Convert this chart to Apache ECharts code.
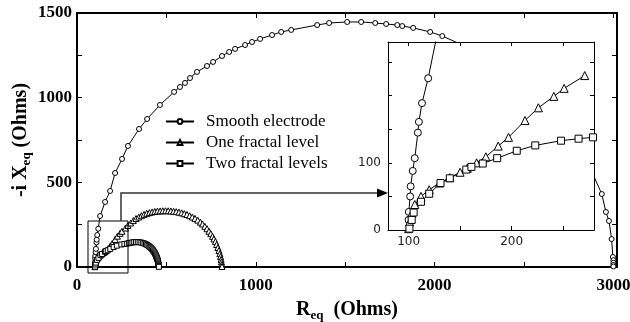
<!DOCTYPE html>
<html>
<head>
<meta charset="utf-8">
<script src="https://cdn.jsdelivr.net/npm/echarts@6/dist/echarts.min.js"></script>
<style>
  html, body { margin: 0; padding: 0; background: #fff; }
  #chart { width: 630px; height: 322px; }
</style>
</head>
<body>
<div id="chart"></div>
<script>
// impedance data (Ohms)
const seriesNames = ['Smooth electrode', 'One fractal level', 'Two fractal levels'];

const smoothRe = [100, 100.2, 101.5, 102, 104, 106, 109, 110, 113, 119, 129, 157, 185, 213, 252, 285, 347, 392, 464,
  543, 576, 604, 632, 671, 727, 761, 811, 851, 884, 940, 979, 1024, 1091, 1142, 1198, 1343, 1410, 1511, 1589,
  1668, 1729, 1791, 1819, 1880, 1975, 2043, 2200, 2400, 2600, 2750, 2880, 2935, 2958, 2975, 2990, 2997, 3000, 3000, 3000, 3000];
const smoothIm = [15, 27, 50, 65, 88, 107, 145, 161, 189, 226, 301, 384, 449, 555, 638, 715, 815, 874, 957,
  1034, 1063, 1087, 1116, 1152, 1187, 1211, 1246, 1270, 1288, 1311, 1329, 1347, 1370, 1388, 1400, 1429, 1441, 1447, 1447,
  1441, 1435, 1429, 1423, 1412, 1388, 1364, 1290, 1170, 990, 780, 560, 431, 325, 272, 165, 59, 40, 25, 12, 3];

const oneRe = [100, 101, 103, 106, 112, 120, 130, 140, 150, 157, 166, 175, 187, 197, 213, 226, 241, 251, 271, 285,
  300, 315, 330, 345, 360, 375, 390, 405, 420, 435, 450, 465, 480, 495, 510, 525, 540, 555, 570, 585,
  600, 615, 630, 645, 660, 675, 690, 702, 715, 727, 738, 748, 758, 766, 774, 781, 788, 794, 799, 803,
  806, 808, 810, 811];
const oneIm = [2, 12, 25, 38, 50, 60, 70, 78, 86, 92, 100, 109, 125, 138, 163, 182, 199, 211, 230, 246,
  260, 274, 286, 295, 303, 311, 317, 321, 325, 328, 330, 331, 332, 332, 332, 331, 329, 327, 324, 320,
  315, 310, 303, 295, 287, 277, 265, 254, 240, 226, 211, 197, 181, 166, 150, 133, 115, 97, 79, 62,
  45, 30, 15, 3];

const twoRe = [100.8, 103, 104.9, 112, 120, 131, 140, 156, 161, 172, 186, 205, 223, 248, 265, 279, 290, 300, 310, 320,
  330, 340, 350, 360, 370, 378, 386, 393, 400, 406, 411, 416, 421, 425, 429, 433, 436, 439, 442, 444,
  446, 448, 450, 452, 453, 454, 455, 456, 457, 458, 458];
const twoIm = [2, 15, 26, 42, 54, 70, 77, 90, 94, 99, 107, 118, 126, 133, 136, 138, 141, 143, 145, 147,
  147, 147, 146, 144, 141, 138, 134, 130, 125, 120, 115, 110, 104, 98, 92, 86, 80, 74, 68, 62,
  56, 50, 44, 38, 32, 26, 20, 15, 10, 5, 1];

// axis ticks / labels
const mainXTicks = [0, 500, 1000, 1500, 2000, 2500, 3000];
const mainXLabels = [0, 1000, 2000, 3000];
const mainYTicks = [0, 250, 500, 750, 1000, 1250, 1500];
const mainYLabels = [0, 500, 1000, 1500];
const insetXTicks = [100, 150, 200, 250];
const insetXLabels = [100, 200];
const insetYTicks = [0, 50, 100, 150, 200, 250];
const insetYLabels = [0, 100];

const zip = (a, b) => a.map((v, i) => [v, b[i]]);
const seriesData = [zip(smoothRe, smoothIm), zip(oneRe, oneIm), zip(twoRe, twoIm)];
const symbols = ['circle', 'triangle', 'rect'];

const serif = 'Liberation Serif';
const chart = echarts.init(document.getElementById('chart'));

function frameAxis(grid, pos, ticks, labels, extra) {
  return Object.assign({
    type: 'value',
    gridIndex: grid,
    position: pos,
    splitLine: { show: false },
    axisLine: { show: true, onZero: false, lineStyle: { color: '#000', width: grid === 0 ? 2 : 1 } },
    axisTick: { show: true, inside: true, length: grid === 0 ? 5 : 4, customValues: ticks,
      lineStyle: { color: '#000', width: 1 } },
    axisLabel: labels ? { customValues: labels } : { show: false },
    z: grid === 0 ? 0 : 20
  }, extra || {});
}

const plain = v => String(v);
const mainLabel = { color: '#000', fontFamily: serif, fontWeight: 'bold', fontSize: 17, formatter: plain };
const insetLabel = { color: '#222', fontFamily: 'DejaVu Sans', fontSize: 12, formatter: plain };

const series = [];
seriesData.forEach((d, i) => {
  series.push({
    name: seriesNames[i], type: 'line', xAxisIndex: 0, yAxisIndex: 0,
    data: d, symbol: symbols[i], symbolSize: i === 1 ? 6 : 5,
    lineStyle: { color: '#000', width: 1 },
    itemStyle: { color: '#fff', borderColor: '#000', borderWidth: 1 },
    animation: false, z: 2
  });
  // the inset only carries the low-frequency points (the smooth curve runs off the top)
  series.push({
    name: seriesNames[i], type: 'line', xAxisIndex: 2, yAxisIndex: 2,
    data: i === 0 ? d : d.filter(p => p[0] <= 280),
    symbol: symbols[i], symbolSize: i === 1 ? 8 : 7,
    lineStyle: { color: '#000', width: 1 },
    itemStyle: { color: '#fff', borderColor: '#000', borderWidth: 1 },
    animation: false, z: 20
  });
});

chart.setOption({
  backgroundColor: '#fff',
  animation: false,
  grid: [
    { left: 77, right: 13, top: 13, bottom: 55, outerBoundsMode: 'none', containLabel: false },
    { left: 388, top: 42, width: 206, height: 188, outerBoundsMode: 'none', containLabel: false }
  ],
  legend: {
    data: seriesNames,
    orient: 'vertical',
    left: 160, top: 108,
    itemWidth: 28, itemHeight: 6, itemGap: 4,
    textStyle: { color: '#000', fontFamily: serif, fontSize: 17, padding: [0, 0, 0, 7] }
  },
  xAxis: [
    frameAxis(0, 'bottom', mainXTicks, mainXLabels, {
      min: 0, max: 3020,
      axisLabel: Object.assign({ customValues: mainXLabels, margin: 10 }, mainLabel),
      name: '{n|R}{s|eq}{n|  (Ohms)}', nameLocation: 'middle', nameGap: 31,
      nameTextStyle: { rich: {
        n: { fontFamily: serif, fontWeight: 'bold', fontSize: 20, color: '#000', lineHeight: 24 },
        s: { fontFamily: serif, fontWeight: 'bold', fontSize: 13, color: '#000', verticalAlign: 'bottom', lineHeight: 24 }
      } }
    }),
    frameAxis(0, 'top', mainXTicks, null, { min: 0, max: 3020 }),
    frameAxis(1, 'bottom', insetXTicks, insetXLabels, {
      min: 80, max: 280,
      axisLabel: Object.assign({ customValues: insetXLabels, margin: 6 }, insetLabel)
    }),
    frameAxis(1, 'top', insetXTicks, null, { min: 80, max: 280 })
  ],
  yAxis: [
    frameAxis(0, 'left', mainYTicks, mainYLabels, {
      min: 0, max: 1500,
      axisLabel: Object.assign({ customValues: mainYLabels, margin: 5 }, mainLabel),
      name: '{n|-i X}{s|eq}{n| (Ohms)}', nameLocation: 'middle', nameGap: 44, nameRotate: 90,
      nameMoveOverlap: false,
      nameTextStyle: { rich: {
        n: { fontFamily: serif, fontWeight: 'bold', fontSize: 20, color: '#000', lineHeight: 24 },
        s: { fontFamily: serif, fontWeight: 'bold', fontSize: 13, color: '#000', verticalAlign: 'bottom', lineHeight: 24 }
      } }
    }),
    frameAxis(0, 'right', mainYTicks, null, { min: 0, max: 1500 }),
    frameAxis(1, 'left', insetYTicks, insetYLabels, {
      min: 0, max: 280,
      axisLabel: Object.assign({ customValues: insetYLabels, margin: 7 }, insetLabel)
    }),
    frameAxis(1, 'right', insetYTicks, null, { min: 0, max: 280 })
  ],
  graphic: [
    // white backing for the inset
    { type: 'rect', z: 10, shape: { x: 388, y: 42, width: 206, height: 188 }, style: { fill: '#fff' } },
    // zoom box on the main plot
    { type: 'rect', z: 5, shape: { x: 88, y: 221, width: 40, height: 52 }, style: { fill: 'none', stroke: '#000', lineWidth: 1 } },
    // connector + arrow to the inset
    { type: 'polyline', z: 5, shape: { points: [[121, 221], [121, 193], [380, 193]] }, style: { fill: 'none', stroke: '#333', lineWidth: 1.5 } },
    { type: 'polygon', z: 15, shape: { points: [[377, 188.5], [388, 193], [377, 197.5]] }, style: { fill: '#000' } }
  ],
  series: series
});
</script>
</body>
</html>
